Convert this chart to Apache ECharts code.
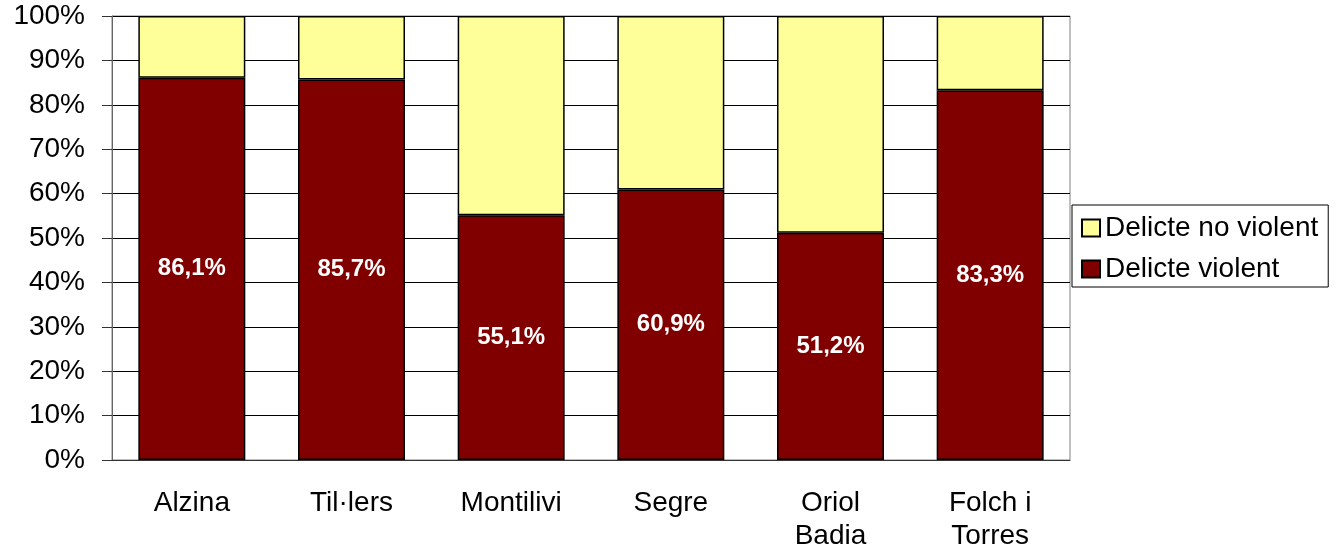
<!DOCTYPE html>
<html>
<head>
<meta charset="utf-8">
<script src="https://cdn.jsdelivr.net/npm/echarts@6/dist/echarts.min.js"></script>
<style>
  html, body { margin: 0; padding: 0; background: #fff; }
  #main { width: 1342px; height: 553px; }
</style>
</head>
<body>
<div id="main"></div>
<script>
  // barris i percentatges
  var barris = ['Alzina', 'Til·lers', 'Montilivi', 'Segre', 'Oriol\nBadia', 'Folch i\nTorres'];
  var violent = [86.1, 85.7, 55.1, 60.9, 51.2, 83.3];
  var noViolent = [13.9, 14.3, 44.9, 39.1, 48.8, 16.7];
  var yTicks = [0, 10, 20, 30, 40, 50, 60, 70, 80, 90, 100];

  var myChart = echarts.init(document.getElementById('main'));
  var font = 'Liberation Sans, Arial, sans-serif';

  myChart.setOption({
    animation: false,
    textStyle: { fontFamily: font },
    grid: { left: 112, right: 272, top: 16, bottom: 93, show: true, borderColor: '#808080', borderWidth: 1 },
    legend: {
      orient: 'vertical',
      left: 1072, top: 205,
      padding: [9, 10, 4, 9],
      itemGap: 13,
      itemWidth: 18, itemHeight: 17,
      itemTextGap: 10,
      borderColor: '#000', borderWidth: 1,
      icon: 'rect',
      data: ['Delicte no violent', 'Delicte violent'],
      textStyle: { fontSize: 28, color: '#000', fontFamily: font }
    },
    xAxis: {
      type: 'category',
      data: barris,
      axisLine: { lineStyle: { color: '#333' } },
      axisTick: { length: 9, lineStyle: { color: '#333' } },
      axisLabel: { fontSize: 28, color: '#000', margin: 27, lineHeight: 33, interval: 0 }
    },
    yAxis: {
      type: 'value',
      min: yTicks[0], max: yTicks[yTicks.length - 1], interval: 10,
      axisLine: { show: true, lineStyle: { color: '#666' } },
      axisTick: { show: true, length: 10, lineStyle: { color: '#333' } },
      axisLabel: { fontSize: 28, color: '#000', margin: 27, formatter: '{value}%' },
      splitLine: { lineStyle: { color: '#000' } }
    },
    series: [
      {
        name: 'Delicte violent',
        type: 'bar',
        stack: 'total',
        barCategoryGap: '33%',
        data: violent,
        itemStyle: { color: '#800000', borderColor: '#000', borderWidth: 1.5 },
        label: {
          show: true,
          position: 'inside',
          color: '#fff',
          fontWeight: 'bold',
          fontSize: 24,
          fontFamily: font,
          formatter: function (p) { return p.value.toFixed(1).replace('.', ',') + '%'; }
        }
      },
      {
        name: 'Delicte no violent',
        type: 'bar',
        stack: 'total',
        barCategoryGap: '33%',
        data: noViolent,
        itemStyle: { color: '#FFFF99', borderColor: '#000', borderWidth: 1.5 }
      }
    ]
  });
</script>
</body>
</html>
